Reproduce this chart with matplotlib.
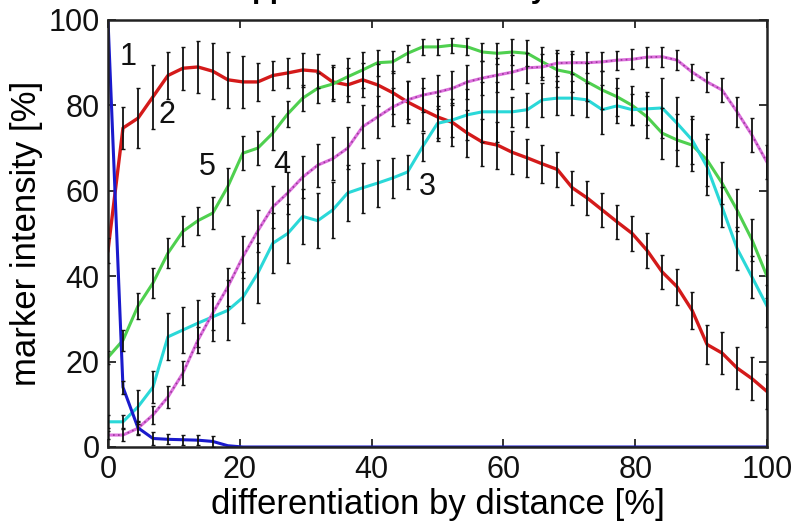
import matplotlib
matplotlib.use('Agg')
import matplotlib.pyplot as plt
import numpy as np

plt.rcParams['font.family'] = ['Liberation Sans', 'DejaVu Sans']

# x grid: differentiation by distance [%], 45 samples
distance = np.linspace(0, 100, 45)

# series 1 (blue)
s1 = [100, 14, 4.5, 2, 1.8, 1.7, 1.6, 1.3, 0.3] + [0] * 36
e1 = [0, 1.5, 1.5, 1.5, 1.2, 1.2, 1.2, 1.2] + [0] * 37

# series 2 (red)
s2 = [46, 74.7, 77, 82, 87, 88.7, 89, 88, 86, 85.5, 85.5, 87, 87.6, 88.3, 88,
      85.5, 84.8, 86, 84.8, 83, 80.8, 79, 77.3, 76, 73.5, 71.4, 70.7, 69, 67.7,
      66.3, 65, 60.7, 58.3, 55.5, 52.7, 50, 46, 41, 37.5, 32, 24, 22, 18.5, 16, 13]
e2 = [3, 5, 7, 7.5, 5.5, 5, 6, 6.5, 6.5, 6, 4.5, 3.5, 3.5, 4, 4, 4, 4, 4, 5, 5,
      5, 5, 5, 5.5, 5.5, 5.5, 5.5, 5, 4.5, 4.5, 4, 4, 4, 4, 4, 4, 4, 4, 4.3, 4.3,
      4.5, 5, 5, 5, 4]

# series 3 (cyan)
s3 = [5.9, 5.9, 9.4, 14, 25.8, 27.4, 29, 30.5, 32, 35, 40.7, 47.7, 50, 54, 53,
      55.5, 59.5, 60.7, 61.8, 63, 64.4, 70.3, 75.8, 76.6, 77.8, 78.5, 78.5, 78.5,
      79, 81.3, 81.7, 81.7, 81.3, 79, 79.9, 79, 79.2, 79.4, 75.8, 71.9, 65.6,
      56.2, 46.5, 39.8, 33]
e3 = [1.5, 1.5, 3.9, 3.7, 5.5, 5.5, 5.5, 5.6, 7, 6, 7, 7, 7, 6.5, 6.5, 6.6, 6.6,
      5.9, 5.5, 4.7, 3.9, 3.3, 4.1, 3.9, 6, 7, 7, 3.5, 4, 4, 4, 4, 4, 5.7, 4.1,
      3.7, 3.9, 7, 6.2, 5.7, 6.6, 4.7, 5, 5, 5]

# series 4 (magenta)
s4 = [2.8, 2.8, 4.4, 7.5, 11.7, 17.3, 25, 31.4, 37.5, 44.5, 50.6, 56.2, 59.5,
      63.2, 66, 67.5, 70, 75, 77.3, 79.6, 81.3, 82.4, 83.1, 84, 85.5, 86.4, 87.1,
      87.8, 88.8, 89, 89.9, 90, 90, 90.2, 90.6, 90.8, 91.3, 91.4, 90.6, 87.8,
      85.5, 83.6, 78.5, 73, 66.7]
e4 = [1, 1.5, 1.5, 2, 2.5, 2.8, 3, 4, 4.5, 5, 5, 5, 5, 5, 5, 5, 5, 5, 5, 4.5,
      4.5, 4, 4, 4, 4, 4, 4, 4, 3.5, 3, 3, 2.7, 2.5, 2.2, 2.2, 2.3, 2.3, 2.3, 2.3,
      1.8, 2.3, 2.9, 3.5, 4, 4]

# series 5 (green)
s5 = [21, 25, 33, 38.4, 45.4, 50.5, 53, 54.8, 61, 68.8, 70, 73.5, 78, 81.7, 84,
      85, 86.7, 88.3, 90, 90.2, 92.2, 93.7, 93.7, 94.1, 93.7, 92.5, 92.2, 92.5,
      92.2, 90.2, 88.3, 87.6, 85.5, 83.6, 82, 80, 77.3, 73.5, 71.9, 70.7, 67.2,
      61.8, 55.5, 48.5, 40]
e5 = [1.5, 2.5, 3, 3.5, 3.5, 3.5, 3.3, 3.7, 4.3, 4, 4, 4, 3, 3, 3.5, 4, 4.5, 4.3,
      3, 2.5, 2, 1.8, 1.8, 1.8, 2, 2, 2.5, 3, 3, 3.5, 4, 4.5, 4.5, 4.5, 4.5, 4.5,
      5, 6, 6, 6, 6, 5, 5, 5, 5]

labels = ['1', '2', '3', '4', '5']
label_pos = [(3.0, 91.3), (9.0, 77.8), (48.4, 61.0), (26.4, 66.0), (15.0, 65.6)]

xticks = [0, 20, 40, 60, 80, 100]
yticks = [0, 20, 40, 60, 80, 100]

fig = plt.figure(figsize=(8, 5.22), dpi=100)
ax = fig.add_axes([108 / 800, 1 - 447 / 522, (767 - 108) / 800, (447 - 20) / 522])

series = [
    (s2, e2, '#d41a1a', 2.4),
    (s5, e5, '#4fd04f', 2.2),
    (s3, e3, '#2ad8d8', 2.2),
    (s4, e4, '#dd6fdd', 2.2),
    (s1, e1, '#1a1acc', 2.2),
]
for vals, err, col, lw in series:
    ax.plot(distance, vals, color=col, lw=lw, zorder=2, solid_joinstyle='round')
    if col == '#dd6fdd':
        ax.plot(distance, vals, color='#9a3a9a', lw=1.2, ls=(0, (1, 2)), zorder=2.1)
    mask = [e > 0 for e in err]
    ax.errorbar(distance, vals, yerr=err, fmt='none', ecolor='#111111',
                elinewidth=1.3, capsize=1.5, capthick=1.0, errorevery=mask,
                zorder=3)

for lab, (lx, ly) in zip(labels, label_pos):
    ax.text(lx, ly, lab, ha='center', va='center', fontsize=22, color='#111111',
            zorder=4)

ax.set_xlim(0, 100)
ax.set_ylim(0, 100)
ax.set_xticks(xticks)
ax.set_yticks(yticks)
ax.tick_params(direction='in', length=6, width=1.2, top=True, right=True,
               labelsize=22, pad=6, colors='#111111')
for sp in ax.spines.values():
    sp.set_linewidth(1.8)
    sp.set_color('#222222')
ax.set_xlabel('differentiation by distance [%]', fontsize=25, labelpad=2)
ax.set_ylabel('marker intensity [%]', fontsize=25, labelpad=4)

fig.text(215 / 800, 1 + 1.5 / 522, 'Support of marker array', fontsize=21,
         fontweight='bold', ha='left', va='baseline')

fig.savefig('out.png', dpi=100)
